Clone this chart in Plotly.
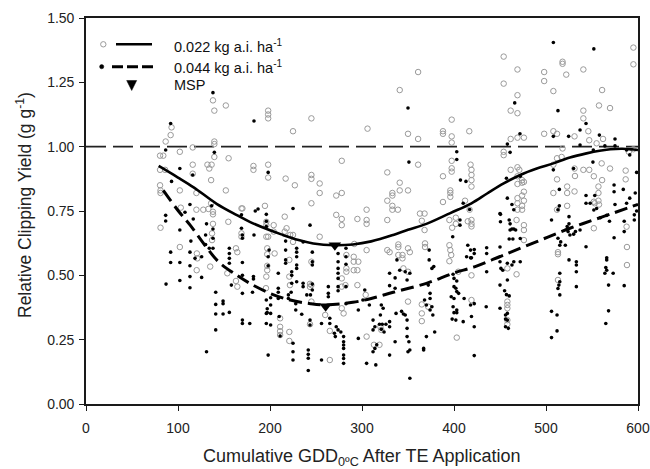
import plotly.graph_objects as go

# ---------------- data ----------------
# 0.022 kg a.i. ha-1 : open circles
open_x = [
    138, 139.5, 152, 198, 198, 198, 225, 245,
    93, 92, 86.6, 139.5, 139.5, 116, 80.5, 84, 102, 139.5, 155, 116, 132, 136.5, 134, 182, 182,
    198, 198, 80.5, 86, 116, 136, 217, 227, 245, 245, 80.5, 81, 81, 102, 152, 120, 136, 194.5,
    245, 170, 120, 127.5,
    361, 341, 306, 350, 361, 397.5, 388, 388, 397.5, 397.5, 416.6, 278, 361, 327.5, 397.5, 397.5,
    397.5, 388, 418, 419, 419, 254, 254, 272, 278, 341, 333, 333, 341, 350, 327.5, 333, 333, 339,
    396, 396, 396, 388, 419, 419, 412, 417, 305, 363, 368,
    454, 469, 454, 498, 498, 518, 518, 522, 540.6, 595, 595, 508, 469, 561, 461.6, 469, 557.6,
    569.6, 540.6, 540.6, 546, 498, 508, 512, 461.6, 469, 476, 531, 547, 555, 562, 454, 454, 518,
    595, 590, 512, 517, 508, 461.6, 469, 471, 531, 540.6, 547, 560.5, 569.6, 586.6, 531.5, 552,
    561, 586.6, 469, 474, 469, 474, 476, 512, 523, 523, 531, 508, 557, 557, 557, 553, 476, 474,
    469, 476, 469, 474, 469, 474, 523, 557.6, 552, 512,
    81, 102, 103, 120.5, 121, 120.3, 135, 137, 137, 138, 138, 138, 133, 163, 164.5, 154.7, 153.6,
    163, 164.5, 169, 169, 169, 196, 196, 196, 198, 204, 204, 216, 216, 218, 222, 225, 225, 197,
    197, 197, 197, 196, 195.6, 205, 221, 221, 221.7, 211, 211, 211, 211, 221, 221, 245, 245, 245,
    272, 278, 278, 295, 305, 305, 327.5, 365, 368, 395, 398, 402, 402, 419, 419, 419, 415, 254,
    291.6, 305, 327.5, 330, 339.5, 339.5, 350, 368.5, 368.5, 395, 396, 397, 395, 283, 291, 291,
    296, 283, 283, 291, 295, 278, 282, 278, 339.5, 344, 344, 352, 345, 350, 295, 304, 350, 365,
    365, 365, 372, 278, 280, 260, 265, 265, 305, 320, 321, 319, 313, 403, 419, 419, 404.7, 243.5,
    243.5, 243.5,
    468, 476, 476, 476, 458, 468, 458, 458, 458, 458, 458, 513, 513, 513, 552, 587.6, 588, 588,
]
open_y = [
    1.18, 1.14, 1.16, 1.14, 1.125, 1.11, 1.06, 1.11,
    1.075, 1.045, 1.02, 1.02, 1.01, 0.997, 0.965, 0.965, 0.98, 0.96, 0.955, 0.93, 0.93, 0.93, 0.915, 0.925, 0.91,
    0.93, 0.88, 0.91, 0.91, 0.895, 0.87, 0.876, 0.85, 0.89, 0.875, 0.85, 0.83, 0.82, 0.83, 0.83, 0.82, 0.78, 0.77,
    0.78, 0.76, 0.755, 0.755,
    1.29, 1.22, 1.07, 1.05, 1.03, 1.105, 1.06, 1.05, 1.04, 1.016, 1.06, 0.945, 0.93, 0.90, 0.945, 0.916,
    0.903, 0.885, 0.93, 0.91, 0.89, 0.857, 0.82, 0.81, 0.82, 0.86, 0.82, 0.81, 0.83, 0.83, 0.79, 0.77, 0.755, 0.755,
    0.83, 0.82, 0.805, 0.785, 0.87, 0.845, 0.79, 0.755, 0.755, 0.74, 0.74,
    1.35, 1.30, 1.245, 1.29, 1.255, 1.33, 1.322, 1.28, 1.30, 1.385, 1.32, 1.216, 1.20, 1.22, 1.14, 1.13, 1.16,
    1.15, 1.14, 1.11, 1.06, 1.05, 1.06, 1.05, 1.03, 1.035, 1.035, 1.04, 1.025, 1.013, 1.03, 0.98, 0.967, 0.993,
    0.99, 0.98, 0.955, 0.96, 0.93, 0.91, 0.92, 0.91, 0.915, 0.91, 0.91, 0.935, 0.915, 0.907, 0.886, 0.885,
    0.87, 0.873, 0.885, 0.87, 0.855, 0.86, 0.863, 0.873, 0.845, 0.82, 0.826, 0.82, 0.845, 0.82, 0.79, 0.78, 0.825, 0.81,
    0.80, 0.79, 0.78, 0.77, 0.755, 0.755, 0.77, 0.775, 0.786, 0.755,
    0.685, 0.61, 0.763, 0.585, 0.566, 0.52, 0.534, 0.637, 0.663, 0.70, 0.737, 0.747, 0.758, 0.605, 0.59, 0.708, 0.508,
    0.478, 0.456, 0.663, 0.65, 0.76, 0.708, 0.695, 0.65, 0.65, 0.695, 0.67, 0.728, 0.67, 0.683, 0.657, 0.657, 0.63, 0.605,
    0.582, 0.537, 0.52, 0.495, 0.45, 0.585, 0.56, 0.495, 0.462, 0.333, 0.30, 0.283, 0.268, 0.28, 0.245, 0.553, 0.462, 0.398,
    0.735, 0.719, 0.695, 0.719, 0.715, 0.70, 0.715, 0.712, 0.676, 0.715, 0.685, 0.70, 0.724, 0.715, 0.70, 0.69, 0.71, 0.65,
    0.622, 0.598, 0.598, 0.59, 0.62, 0.61, 0.605, 0.624, 0.61, 0.617, 0.598, 0.579, 0.555, 0.579, 0.572, 0.553,
    0.553, 0.527, 0.514, 0.52, 0.52, 0.488, 0.462, 0.456, 0.579, 0.579, 0.566, 0.59, 0.527, 0.514, 0.462, 0.424, 0.398, 0.387,
    0.352, 0.322, 0.378, 0.372, 0.352, 0.346, 0.284, 0.171, 0.262, 0.30, 0.288, 0.23, 0.23, 0.258, 0.404, 0.50, 0.514, 0.31,
    0.467, 0.455,
    0.715, 0.695, 0.676, 0.637, 0.527, 0.504, 0.398, 0.385, 0.372, 0.326, 0.31, 0.59, 0.582, 0.482, 0.683, 0.689, 0.61, 0.54,
]

# 0.044 kg a.i. ha-1 : filled dots
fill_x = [
    138, 182.6, 92, 139.5, 86.6, 102, 116, 198, 93, 225, 113, 136.6, 184, 243.5,
    350, 351, 403, 403, 407, 413, 410, 417,
    508, 552, 466, 513, 543.5, 537, 471.7, 508, 524.6, 558, 575, 458, 537, 564, 575, 587.6, 591,
    461, 551.4, 551, 508, 530, 457, 472, 514.5, 574, 574, 584, 598.5, 458, 463, 465, 543.5, 553,
    548, 543.5, 597, 591, 514.5, 513, 575, 587.6, 450, 598.5,
    86.6, 86.6, 102, 87, 92, 92, 102, 102, 113, 113, 113, 113, 118.5, 125.7, 125.7, 131, 141, 141,
    141, 149, 149, 149, 141, 155.8, 155.8, 155.8, 155.8, 155.8, 158, 170, 170, 170, 170, 170, 178,
    182, 182, 181, 196, 196, 196, 200.7, 200.7, 200.7, 200.7, 198, 209, 209, 209, 210, 211, 209,
    198, 198, 199, 187, 196, 169, 169, 170, 170, 182.6, 138, 138, 138, 131, 130, 130, 134, 114,
    116.6, 107.6, 217, 217, 217, 217, 220, 220, 223, 223.6, 223.6, 223.6, 228, 228, 229, 229, 229,
    229, 229, 229, 225, 225, 225, 241.6, 241.6, 241.6, 241.6, 236, 236, 246, 246, 246, 246, 246,
    240, 244, 197, 197, 234.5, 196, 196, 236,
    243.5, 243.5, 274, 274, 282.6, 282.6, 274, 274, 274, 274, 263.4, 263.4, 263.4, 282.6, 282.6,
    256, 265, 265, 272, 274, 277, 270, 271, 280, 280, 280, 280, 280, 280, 280, 256, 296, 296, 303,
    301, 308, 312, 314, 312, 319, 322, 326, 321, 324, 330, 330, 314, 312, 316, 305, 315, 320, 323,
    321, 330, 330, 336, 336, 338, 341, 347, 352, 349, 343, 345, 347, 337, 336, 330, 349, 349, 349,
    351, 352, 350, 352, 367, 367, 368, 370, 374, 376, 377, 372, 374, 374, 373, 373, 370, 379, 376,
    378, 398.6, 399, 400, 403, 400, 402, 403, 397, 400, 405, 399, 403, 400, 403, 398, 402, 411,
    418, 413.7, 418, 415, 418, 410, 419, 406.5, 406.5, 282.6, 274,
    450.5, 450.5, 460, 461, 463, 465, 461, 467, 460, 464, 472, 450, 435.5, 435.5, 435.5, 422, 422,
    419, 450, 451, 453, 458, 463, 465, 472, 450, 455, 457, 460, 458, 435, 450, 458, 456, 456, 458,
    456, 459, 422, 422, 422, 506, 513, 516, 515, 521, 525, 525, 523, 524, 526, 530, 532, 525, 533,
    533, 533, 533, 515, 515, 514, 513, 515, 506, 512, 512, 506, 537, 543.5, 552, 555, 559, 566,
    569, 574, 566, 566, 565, 566, 564, 573, 568, 585, 568, 565, 585, 585, 596, 596,
]
fill_y = [
    1.21, 1.10, 1.09, 0.978, 0.987, 0.915, 0.89, 0.90, 0.865, 0.76, 0.775, 0.77, 0.75, 0.695,
    1.15, 0.94, 0.98, 0.95, 0.87, 0.865, 0.78, 0.756,
    1.405, 1.38, 1.17, 1.14, 1.09, 1.065, 1.05, 1.04, 1.04, 1.045, 1.03, 1.01, 1.006, 1.003, 1.003, 0.987, 0.968,
    0.978, 0.987, 0.94, 0.91, 0.915, 0.877, 0.885, 0.834, 0.851, 0.825, 0.834, 0.90, 0.80, 0.775, 0.755, 0.81, 0.81,
    0.78, 0.78, 0.82, 0.80, 0.77, 0.755, 0.775, 0.78, 0.74, 0.75,
    0.733, 0.711, 0.676, 0.466, 0.59, 0.55, 0.55, 0.48, 0.59, 0.537, 0.495, 0.452, 0.566, 0.572, 0.492, 0.203, 0.434, 0.387,
    0.35, 0.40, 0.39, 0.35, 0.288, 0.356, 0.605, 0.585, 0.566, 0.547, 0.462, 0.55, 0.50, 0.43, 0.326, 0.313, 0.313,
    0.495, 0.486, 0.434, 0.404, 0.352, 0.313, 0.413, 0.385, 0.352, 0.307, 0.19, 0.45, 0.434, 0.41, 0.34, 0.264, 0.508,
    0.572, 0.537, 0.598, 0.758, 0.737, 0.735, 0.683, 0.657, 0.644, 0.657, 0.68, 0.644, 0.605, 0.70, 0.62, 0.657, 0.605, 0.633,
    0.719, 0.745, 0.633, 0.598, 0.56, 0.547, 0.424, 0.41, 0.434, 0.469, 0.514, 0.50, 0.39, 0.365, 0.475, 0.527, 0.54,
    0.572, 0.59, 0.605, 0.236, 0.203, 0.171, 0.21, 0.193, 0.178, 0.13, 0.469, 0.456, 0.466, 0.443, 0.553, 0.54, 0.59,
    0.424, 0.424, 0.37, 0.355, 0.349, 0.71, 0.69, 0.63,
    0.326, 0.307, 0.553, 0.527, 0.572, 0.543, 0.508, 0.488, 0.456, 0.44, 0.456, 0.43, 0.417, 0.456, 0.39,
    0.313, 0.333, 0.313, 0.30, 0.288, 0.28, 0.275, 0.262, 0.262, 0.242, 0.229, 0.216, 0.19, 0.177, 0.158, 0.171, 0.365, 0.255, 0.443,
    0.404, 0.385, 0.326, 0.30, 0.288, 0.31, 0.31, 0.31, 0.29, 0.28, 0.32, 0.30, 0.216, 0.203, 0.23, 0.158, 0.152, 0.346, 0.372,
    0.385, 0.508, 0.46, 0.49, 0.45, 0.56, 0.52, 0.514, 0.508, 0.482, 0.36, 0.35, 0.346, 0.352, 0.242, 0.19, 0.326, 0.294, 0.262,
    0.242, 0.21, 0.203, 0.10, 0.216, 0.21, 0.404, 0.385, 0.365, 0.378, 0.346, 0.462, 0.43, 0.41, 0.598, 0.56, 0.262, 0.28, 0.527,
    0.534, 0.65, 0.504, 0.488, 0.478, 0.456, 0.45, 0.437, 0.417, 0.41, 0.43, 0.378, 0.365, 0.355, 0.355, 0.33, 0.326, 0.41,
    0.385, 0.572, 0.568, 0.617, 0.598, 0.32, 0.34, 0.715, 0.695, 0.605, 0.585,
    0.737, 0.708, 0.715, 0.70, 0.68, 0.68, 0.676, 0.676, 0.641, 0.641, 0.643, 0.61, 0.607, 0.585, 0.514, 0.60, 0.585,
    0.568, 0.553, 0.527, 0.52, 0.547, 0.54, 0.553, 0.553, 0.462, 0.44, 0.425, 0.42, 0.482, 0.378, 0.372, 0.352, 0.346, 0.33, 0.326,
    0.30, 0.294, 0.39, 0.30, 0.188, 0.715, 0.644, 0.63, 0.617, 0.617, 0.728, 0.70, 0.69, 0.67, 0.657, 0.66, 0.67, 0.56, 0.553,
    0.54, 0.514, 0.456, 0.508, 0.475, 0.462, 0.449, 0.424, 0.36, 0.346, 0.284, 0.258, 0.676, 0.611, 0.754, 0.76, 0.724, 0.733,
    0.71, 0.646, 0.568, 0.56, 0.53, 0.52, 0.508, 0.508, 0.462, 0.46, 0.362, 0.313, 0.71, 0.67, 0.735, 0.715,
]

# fitted curves
fit022_x = [79, 100, 117, 142, 164, 178, 200, 214, 230, 247, 270, 290, 310, 334, 350, 370, 396, 419, 436, 454, 472, 490, 508, 526, 544, 560, 570, 583, 595, 600]
fit022_y = [0.925, 0.88, 0.842, 0.778, 0.734, 0.708, 0.675, 0.657, 0.638, 0.624, 0.617, 0.62, 0.632, 0.657, 0.677, 0.70, 0.742, 0.78, 0.818, 0.857, 0.89, 0.915, 0.935, 0.958, 0.974, 0.985, 0.99, 0.992, 0.989, 0.987]
fit044_x = [84, 100, 113, 129, 144, 164, 178, 200, 222, 244, 262, 290, 310, 334, 370, 399, 423, 454, 490, 526, 562, 600]
fit044_y = [0.83, 0.752, 0.696, 0.618, 0.553, 0.50, 0.469, 0.43, 0.404, 0.39, 0.385, 0.395, 0.41, 0.434, 0.469, 0.508, 0.534, 0.579, 0.631, 0.683, 0.728, 0.776]

msp_x = [270.5, 260.5]
msp_y = [0.617, 0.380]

reference_y = 1.0
x_ticks = [0, 100, 200, 300, 400, 500, 600]
y_ticks = [0.0, 0.25, 0.5, 0.75, 1.0, 1.25, 1.5]
legend_labels = ["0.022 kg a.i. ha<sup>-1</sup>", "0.044 kg a.i. ha<sup>-1</sup>", "MSP"]
x_title = "Cumulative GDD<sub>0ºC</sub> After TE Application"
y_title = "Relative Clipping Yield (g g<sup>-1</sup>)"

# ---------------- figure ----------------
FONT = "Liberation Sans, Arial, sans-serif"
fig = go.Figure()

fig.add_trace(go.Scatter(
    x=open_x, y=open_y, mode="markers",
    marker=dict(symbol="circle-open", size=5.5, color="#9a9a9a", line=dict(width=1, color="#9a9a9a")),
    showlegend=False, hoverinfo="skip"))
fig.add_trace(go.Scatter(
    x=fill_x, y=fill_y, mode="markers",
    marker=dict(symbol="circle", size=3.6, color="#000000"),
    showlegend=False, hoverinfo="skip"))
fig.add_trace(go.Scatter(
    x=fit022_x, y=fit022_y, mode="lines",
    line=dict(color="#000000", width=2.6, shape="spline", smoothing=1.0),
    showlegend=False, hoverinfo="skip"))
fig.add_trace(go.Scatter(
    x=fit044_x, y=fit044_y, mode="lines",
    line=dict(color="#000000", width=3, shape="spline", smoothing=1.0, dash="13px,6px"),
    showlegend=False, hoverinfo="skip"))
fig.add_trace(go.Scatter(
    x=msp_x, y=msp_y, mode="markers",
    marker=dict(symbol="triangle-down", size=11, color="#000000"),
    showlegend=False, hoverinfo="skip"))

# reference line at 1.0
fig.add_shape(type="line", xref="x", yref="y", x0=0, x1=600, y0=reference_y, y1=reference_y,
              line=dict(color="#222222", width=1.6, dash="20px,7px"), layer="below")

# ---------------- custom legend (paper coords) ----------------
L, R, T, B = 86, 638, 18, 404
def xp(px):
    return (px - L) / (R - L)
def yp(py):
    return (B - py) / (B - T)

fig.add_shape(type="circle", xref="paper", yref="paper",
              x0=xp(100.6), x1=xp(106), y0=yp(47), y1=yp(41.6),
              line=dict(color="#9a9a9a", width=1))
fig.add_shape(type="line", xref="paper", yref="paper",
              x0=xp(116), x1=xp(152), y0=yp(44.3), y1=yp(44.3),
              line=dict(color="#000000", width=2.6))
fig.add_shape(type="circle", xref="paper", yref="paper",
              x0=xp(99.6), x1=xp(103.8), y0=yp(68.8), y1=yp(64.6),
              fillcolor="#000000", line=dict(color="#000000", width=0.5))
fig.add_shape(type="line", xref="paper", yref="paper",
              x0=xp(112), x1=xp(156), y0=yp(66.7), y1=yp(66.7),
              line=dict(color="#000000", width=3, dash="11px,4px"))
fig.add_shape(type="path", xref="paper", yref="paper",
              path="M {:.4f},{:.4f} L {:.4f},{:.4f} L {:.4f},{:.4f} Z".format(
                  xp(126.7), yp(80.5), xp(136.7), yp(80.5), xp(131.7), yp(90.5)),
              fillcolor="#000000", line=dict(color="#000000", width=0.5))

for lab, py in zip(legend_labels, [46, 66.5, 85.5]):
    fig.add_annotation(xref="paper", yref="paper", x=xp(172), y=yp(py),
                       xanchor="left", yanchor="middle", showarrow=False,
                       text=lab, font=dict(family=FONT, size=14.5, color="#111111"))

# axis titles placed as text
fig.add_annotation(xref="paper", yref="paper", x=xp(24), y=yp(205),
                   xanchor="center", yanchor="middle", showarrow=False, textangle=-90,
                   text=y_title, font=dict(family=FONT, size=17.5, color="#222222"))
fig.add_annotation(xref="paper", yref="paper", x=xp(362), y=yp(457),
                   xanchor="center", yanchor="middle", showarrow=False,
                   text=x_title, font=dict(family=FONT, size=18, color="#222222"))

axis_common = dict(
    showline=True, linecolor="#1a1a1a", linewidth=1.6, mirror=True,
    ticks="outside", ticklen=5, tickwidth=1.4, tickcolor="#1a1a1a",
    showgrid=False, zeroline=False, automargin=False,
    tickfont=dict(family=FONT, size=14, color="#222222"),
)

fig.update_layout(
    width=650, height=469,
    margin=dict(l=L, r=650 - R, t=T, b=469 - B),
    paper_bgcolor="white", plot_bgcolor="white",
    font=dict(family=FONT, color="#222222"),
    showlegend=False,
    xaxis=dict(range=[0, 600], tickvals=x_ticks, ticktext=[str(v) for v in x_ticks],
               ticklabelstandoff=5, **axis_common),
    yaxis=dict(range=[0, 1.5], tickvals=y_ticks, ticktext=["{:.2f}".format(v) for v in y_ticks],
               ticklabelstandoff=2, **axis_common),
)

fig.write_html("out.html", config={"displayModeBar": False},
               post_script="document.body.style.margin='0';document.body.style.padding='0';")
